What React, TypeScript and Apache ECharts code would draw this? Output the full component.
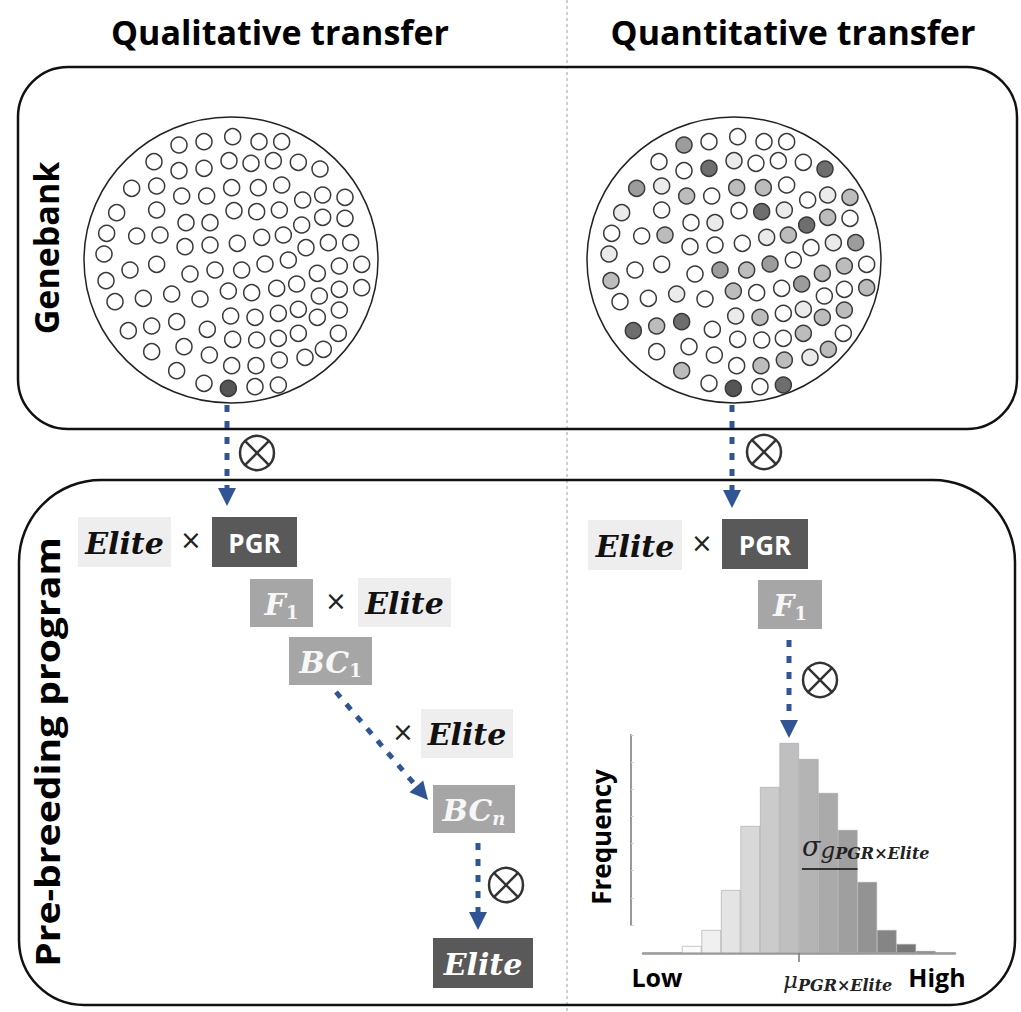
import React, { useEffect, useRef } from "react";
import * as echarts from "echarts";

// ---------- DATA ----------
// accession positions inside each genebank (genebank units: 0..900 across, 0..870 down)
const accessionPos: [number, number][] = [
  [297, 75], [372, 65], [458, 50], [537, 65], [605, 65],
  [222, 125], [297, 152], [372, 145], [447, 122], [513, 130], [580, 122], [655, 127], [720, 147],
  [155, 205], [230, 198], [305, 228], [380, 228], [455, 203], [535, 203], [605, 195], [668, 240], [728, 225], [795, 232],
  [110, 278], [230, 270], [318, 308], [390, 308], [462, 272], [530, 275], [598, 270], [665, 315], [728, 292], [795, 295],
  [80, 340], [170, 348], [240, 345], [315, 380], [390, 375], [472, 370], [545, 352], [610, 345], [678, 383], [745, 368], [812, 368],
  [72, 402], [150, 450], [230, 433], [330, 462], [405, 450], [485, 450], [555, 432], [625, 420], [712, 460], [778, 438], [845, 433],
  [78, 482], [105, 545], [190, 535], [275, 522], [360, 537], [445, 513], [515, 518], [590, 505], [650, 492], [718, 528], [778, 508], [845, 503],
  [145, 632], [215, 618], [290, 605], [382, 628], [452, 588], [525, 592], [595, 580], [655, 568], [712, 592], [778, 570],
  [215, 695], [312, 680], [388, 705], [458, 658], [530, 660], [595, 655], [655, 640], [775, 640], [730, 688], [675, 712],
  [290, 752], [455, 737], [528, 737], [598, 720], [372, 790], [445, 805], [525, 800], [595, 795],
];

// allele state of each accession (0 = none ... 4 = strong, 5 = selected donor)
const qualitativeState: number[] = [
  0, 0, 0, 0, 0,
  0, 0, 0, 0, 0, 0, 0, 0,
  0, 0, 0, 0, 0, 0, 0, 0, 0, 0,
  0, 0, 0, 0, 0, 0, 0, 0, 0, 0,
  0, 0, 0, 0, 0, 0, 0, 0, 0, 0, 0,
  0, 0, 0, 0, 0, 0, 0, 0, 0, 0, 0,
  0, 0, 0, 0, 0, 0, 0, 0, 0, 0, 0, 0,
  0, 0, 0, 0, 0, 0, 0, 0, 0, 0,
  0, 0, 0, 0, 0, 0, 0, 0, 0, 0,
  0, 0, 0, 0, 0, 5, 0, 0,
];
const quantitativeState: number[] = [
  3, 0, 0, 0, 0,
  0, 0, 4, 1, 0, 0, 0, 4,
  3, 1, 2, 0, 2, 2, 0, 0, 1, 2,
  1, 0, 0, 1, 0, 4, 1, 4, 2, 0,
  0, 0, 2, 0, 0, 0, 1, 2, 0, 1, 3,
  1, 0, 0, 0, 3, 2, 3, 0, 2, 2, 0,
  2, 0, 0, 1, 0, 2, 0, 0, 3, 0, 0, 2,
  4, 2, 4, 0, 1, 2, 0, 1, 2, 2,
  0, 0, 0, 0, 0, 0, 2, 0, 2, 1,
  2, 0, 2, 2, 0, 5, 0, 4,
];

// histogram of the PGR x Elite progeny
const histBins: string[] = ["1", "2", "3", "4", "5", "6", "7", "8", "9", "10", "11", "12", "13", "14", "15", "16"];
const histFreq: number[] = [0, 0, 7, 23, 63, 127, 166, 210, 194, 160, 123, 71, 23, 9, 2, 0];
const meanBin = 8;
const sigmaSpan: [number, number] = [8.15, 11.0];
const sigmaLevel = 84;

// ---------- STYLE ----------
const stateColors = ["#ffffff", "#ebebeb", "#bcbcbc", "#9c9c9c", "#6e6e6e", "#555555"];
const barPalette = ["#ffffff", "#ffffff", "#fbfbfb", "#f0f0f0", "#e4e4e4", "#d8d8d8", "#cbcbcb", "#bfbfbf", "#b4b4b4", "#aaaaaa", "#9f9f9f", "#939393", "#858585", "#777777", "#6a6a6a", "#ffffff"];
const BLUE = "#2f5597";
const LIGHT = "#eeeeee";
const MID = "#a6a6a6";
const DARK = "#595959";
const SANS = "'Open Sans', 'Noto Sans', sans-serif";
const SERIF = "'DejaVu Serif', serif";

function arrow(x1: number, y1: number, x2: number, y2: number) {
  const dx = x2 - x1, dy = y2 - y1, L = Math.hypot(dx, dy);
  const ux = dx / L, uy = dy / L;
  const hl = 18, hw = 9;
  const bx = x2 - ux * hl, by = y2 - uy * hl;
  return [
    { type: "line", shape: { x1, y1, x2: bx, y2: by }, style: { stroke: BLUE, lineWidth: 5, lineDash: [7, 9] } },
    { type: "polygon", shape: { points: [[x2, y2], [bx - uy * hw, by + ux * hw], [bx + uy * hw, by - ux * hw]] }, style: { fill: BLUE } },
  ];
}

function selfMark(cx: number, cy: number) {
  const r = 17, d = r * 0.707;
  const st = { stroke: "#333", lineWidth: 2.5, fill: "none" };
  return [
    { type: "circle", shape: { cx, cy, r }, style: st },
    { type: "line", shape: { x1: cx - d, y1: cy - d, x2: cx + d, y2: cy + d }, style: st },
    { type: "line", shape: { x1: cx - d, y1: cy + d, x2: cx + d, y2: cy - d }, style: st },
  ];
}

const boxRich = (color: string) => ({
  e: { fontFamily: SERIF, fontWeight: "bold", fontStyle: "italic", fontSize: 30, fill: color, lineHeight: 34 },
  p: { fontFamily: SANS, fontWeight: "bold", fontSize: 26, fill: color, lineHeight: 34 },
  s: { fontFamily: SERIF, fontWeight: "bold", fontSize: 18, fill: color, lineHeight: 24, verticalAlign: "bottom" },
  si: { fontFamily: SERIF, fontWeight: "bold", fontStyle: "italic", fontSize: 18, fill: color, lineHeight: 24, verticalAlign: "bottom" },
});

function box(x: number, y: number, w: number, h: number, fill: string, text: string, color: string) {
  return [
    { type: "rect", shape: { x, y, width: w, height: h }, style: { fill } },
    { type: "text", x: x + w / 2, y: y + h / 2 + 1, z: 10, style: { text, rich: boxRich(color), align: "center", verticalAlign: "middle" } },
  ];
}

function times(x: number, y: number) {
  return { type: "text", x, y, z: 10, style: { text: "×", fontFamily: "'DejaVu Sans', sans-serif", fontSize: 26, fill: "#222", align: "center", verticalAlign: "middle" } };
}

function label(text: string, x: number, y: number, size: number, rotate = 0, stretch = 1) {
  return {
    type: "text", x, y, rotation: rotate, scaleX: stretch, z: 10,
    style: { text, fontFamily: SANS, fontWeight: "bold", fontSize: size, fill: "#000", align: "center", verticalAlign: "middle" },
  };
}

function buildOption() {
  const scatterData = (state: number[]) =>
    accessionPos.map((p, i) => ({ value: p, itemStyle: { color: stateColors[state[i]] } }));

  const graphics: any[] = [
    // divider
    { type: "line", shape: { x1: 567, y1: 0, x2: 567, y2: 1012 }, style: { stroke: "#c0c0c0", lineWidth: 1.5, lineDash: [3, 3] } },
    // panels
    { type: "rect", shape: { x: 18, y: 67, width: 999, height: 362, r: 50 }, style: { fill: "none", stroke: "#111", lineWidth: 2.5 } },
    { type: "rect", shape: { x: 19, y: 480, width: 996, height: 525, r: [82, 82, 65, 65] }, style: { fill: "none", stroke: "#111", lineWidth: 2.5 } },
    // genebank outlines
    { type: "ellipse", shape: { cx: 231, cy: 260, rx: 147, ry: 143 }, style: { fill: "#fff", stroke: "#222", lineWidth: 1.5 } },
    { type: "ellipse", shape: { cx: 734, cy: 260, rx: 147, ry: 143 }, style: { fill: "#fff", stroke: "#222", lineWidth: 1.5 } },
    // titles
    label("Qualitative transfer", 280, 32, 34),
    label("Quantitative transfer", 793, 32, 34),
    label("Genebank", 46, 248, 34, Math.PI / 2),
    label("Pre-breeding program", 47, 752, 34, Math.PI / 2, 1.15),
    // arrows
    ...arrow(227, 405, 227, 506),
    ...arrow(732, 405, 732, 508),
    ...arrow(336, 692, 428, 800),
    ...arrow(478, 843, 478, 930),
    ...arrow(789, 640, 789, 738),
    ...selfMark(257, 453),
    ...selfMark(764, 452),
    ...selfMark(506, 885),
    ...selfMark(820, 680),
    // qualitative boxes
    ...box(78, 517, 93, 50, LIGHT, "{e|Elite}", "#111"),
    times(191, 540),
    ...box(212, 517, 85, 50, DARK, "{p|PGR}", "#fff"),
    ...box(250, 579, 63, 48, MID, "{e|F}{s|1}", "#f7f7f7"),
    times(336, 601),
    ...box(358, 578, 93, 49, LIGHT, "{e|Elite}", "#111"),
    ...box(289, 637, 83, 48, MID, "{e|BC}{s|1}", "#f7f7f7"),
    times(403, 732),
    ...box(421, 709, 92, 49, LIGHT, "{e|Elite}", "#111"),
    ...box(433, 785, 82, 48, MID, "{e|BC}{si|n}", "#f7f7f7"),
    ...box(433, 938, 100, 50, DARK, "{e|Elite}", "#fff"),
    // quantitative boxes
    ...box(588, 520, 94, 50, LIGHT, "{e|Elite}", "#111"),
    times(702, 543),
    ...box(722, 519, 86, 50, DARK, "{p|PGR}", "#fff"),
    ...box(758, 580, 64, 49, MID, "{e|F}{s|1}", "#f7f7f7"),
    // histogram annotations
    label("Frequency", 601, 837, 26, Math.PI / 2),
    label("Low", 657, 977, 25),
    label("High", 937, 977, 25),
    {
      type: "text", x: 783, y: 980, z: 10,
      style: {
        text: "{m|μ}{s|PGR×Elite}", align: "left", verticalAlign: "middle",
        rich: {
          m: { fontFamily: SERIF, fontStyle: "italic", fontSize: 23, fill: "#222", lineHeight: 26 },
          s: { fontFamily: SERIF, fontWeight: "bold", fontStyle: "italic", fontSize: 16, fill: "#222", lineHeight: 18, verticalAlign: "bottom" },
        },
      },
    },
    {
      type: "text", x: 802, y: 846, z: 10,
      style: {
        text: "{a|σ}{b|g}{c|PGR×Elite}", align: "left", verticalAlign: "middle",
        rich: {
          a: { fontFamily: SERIF, fontStyle: "italic", fontSize: 27, fill: "#222", lineHeight: 30 },
          b: { fontFamily: SERIF, fontStyle: "italic", fontSize: 23, fill: "#222", lineHeight: 26, verticalAlign: "bottom" },
          c: { fontFamily: SERIF, fontWeight: "bold", fontStyle: "italic", fontSize: 16, fill: "#222", lineHeight: 16, verticalAlign: "bottom" },
        },
      },
    },
  ];

  return {
    animation: false,
    backgroundColor: "#fff",
    grid: [
      { left: 80, top: 120, width: 300, height: 290 },
      { left: 585, top: 120, width: 300, height: 290 },
      { left: 643, top: 733, width: 312, height: 220 },
      { left: 631, top: 735, width: 10, height: 190 },
    ],
    xAxis: [
      { gridIndex: 0, type: "value", min: 0, max: 900, show: false },
      { gridIndex: 1, type: "value", min: 0, max: 900, show: false },
      {
        gridIndex: 2, type: "category", data: histBins, boundaryGap: true,
        axisLine: { show: true, lineStyle: { color: "#999", width: 2.5 } },
        axisTick: { show: false }, axisLabel: { show: false },
      },
      {
        gridIndex: 2, type: "value", min: 0, max: 16, position: "bottom",
        axisLine: { show: false }, splitLine: { show: false }, axisLabel: { show: false },
        axisTick: { show: true, customValues: [meanBin], length: 9, lineStyle: { color: "#777", width: 1.5 } },
      },
      { gridIndex: 3, type: "value", show: false },
    ],
    yAxis: [
      { gridIndex: 0, type: "value", min: 0, max: 870, inverse: true, show: false },
      { gridIndex: 1, type: "value", min: 0, max: 870, inverse: true, show: false },
      { gridIndex: 2, type: "value", min: 0, max: 220, show: false },
      {
        gridIndex: 3, type: "value", min: 0, max: 7, interval: 1,
        axisLine: { show: true, lineStyle: { color: "#999", width: 2 } },
        axisTick: { show: true, inside: true, length: 3, lineStyle: { color: "#d5d5d5" } },
        axisLabel: { show: false }, splitLine: { show: false },
      },
    ],
    series: [
      {
        type: "scatter", xAxisIndex: 0, yAxisIndex: 0, symbol: "circle", symbolSize: 16, z: 3,
        itemStyle: { borderColor: "#3a3a3a", borderWidth: 1.5, opacity: 1 },
        data: scatterData(qualitativeState),
      },
      {
        type: "scatter", xAxisIndex: 1, yAxisIndex: 1, symbol: "circle", symbolSize: 16, z: 3,
        itemStyle: { borderColor: "#3a3a3a", borderWidth: 1.5, opacity: 1 },
        data: scatterData(quantitativeState),
      },
      {
        type: "bar", xAxisIndex: 2, yAxisIndex: 2, barCategoryGap: "0%",
        itemStyle: { borderColor: "#a5a5a5", borderWidth: 0.6 },
        data: histFreq.map((v, i) => ({ value: v, itemStyle: { color: barPalette[i] } })),
      },
      {
        type: "line", xAxisIndex: 3, yAxisIndex: 2, symbol: "none", z: 5,
        lineStyle: { color: "#333", width: 2 },
        data: [[sigmaSpan[0], sigmaLevel], [sigmaSpan[1], sigmaLevel]],
      },
    ],
    graphic: graphics,
  };
}

export default function App() {
  const ref = useRef<HTMLDivElement>(null);
  useEffect(() => {
    if (!ref.current) return;
    const chart = echarts.init(ref.current, null, { renderer: "svg" });
    chart.setOption(buildOption() as any);
    return () => chart.dispose();
  }, []);
  return (
    <div
      ref={ref}
      style={{ position: "fixed", left: 0, top: 0, width: 1021, height: 1012, background: "#fff" }}
    />
  );
}
